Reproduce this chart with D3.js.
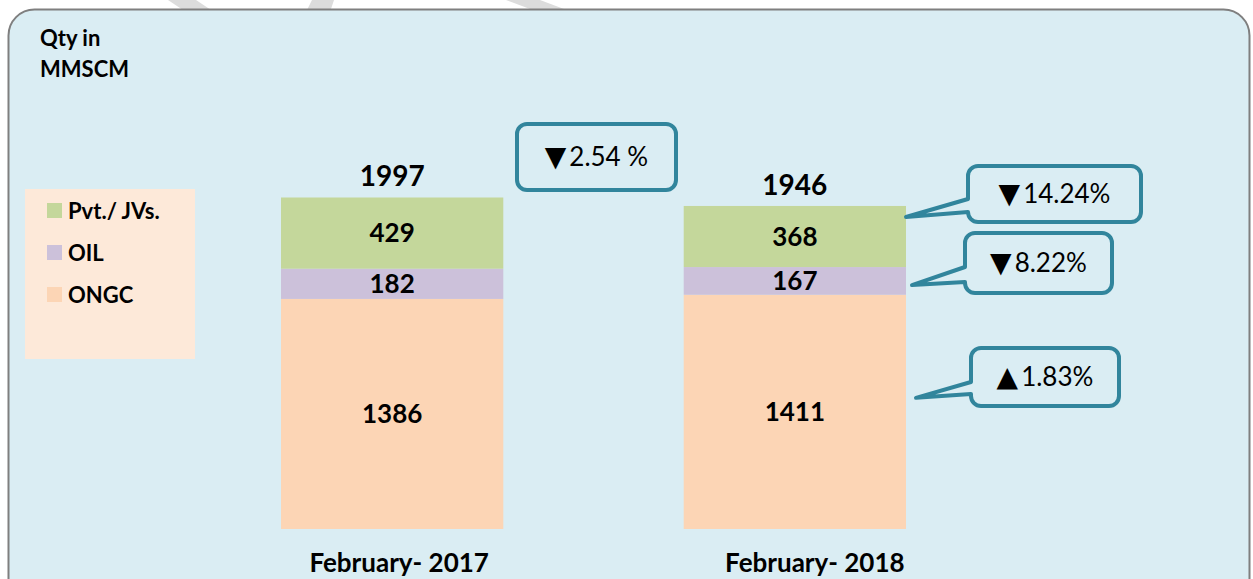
<!DOCTYPE html>
<html lang="en">
<head>
<meta charset="UTF-8">
<title>Natural gas production, February 2017 vs 2018</title>
<script src="https://cdn.jsdelivr.net/npm/d3@7"></script>
<style>
  html, body { margin: 0; padding: 0; background: #fff; }
  svg { display: block; font-family: Lato, "Open Sans", sans-serif; }
</style>
</head>
<body>
<svg id="chart" width="1253" height="579"></svg>
<script>
// data
var categories = ["February- 2017", "February- 2018"]
var seriesNames = ["ONGC", "OIL", "Pvt./ JVs."]
var ongc = [1386, 1411]
var oil = [182, 167]
var pvt = [429, 368]
var totals = [1997, 1946]
var legendOrder = ["Pvt./ JVs.", "OIL", "ONGC"]
var totalChange = ["\u25BC", "2.54 %"]
var seriesChange = [["\u25B2", "1.83%"], ["\u25BC", "8.22%"], ["\u25BC", "14.24%"]]  // ONGC, OIL, Pvt

var colors = { "ONGC": "#fcd5b5", "OIL": "#ccc1da", "Pvt./ JVs.": "#c4d79b" }
var teal = "#31859c"

var svg = d3.select("#chart")

// faint watermark bands peeking above the panel
var bands = [
  [[168, 0], [196, 0], [214, 12], [186, 12]],
  [[312, 0], [334, 0], [330, 12], [306, 12]],
  [[506, 0], [540, 0], [572, 12], [538, 12]]
]
svg.selectAll("polygon.wm").data(bands).join("polygon")
  .attr("class", "wm")
  .attr("points", d => d.map(p => p.join(",")).join(" "))
  .attr("fill", "#dcdcdc")

// panel
svg.append("rect")
  .attr("x", 8.5).attr("y", 9.5)
  .attr("width", 1241).attr("height", 600)
  .attr("rx", 26)
  .attr("fill", "#daedf3")
  .attr("stroke", "#7f7f7f")
  .attr("stroke-width", 2)

svg.append("text")
  .attr("x", 40).attr("y", 46)
  .attr("font-size", 22).attr("font-weight", "bold")
  .text("Qty in")
svg.append("text")
  .attr("x", 40).attr("y", 77)
  .attr("font-size", 22).attr("font-weight", "bold")
  .text("MMSCM")

// scales
var x = d3.scaleBand()
  .domain(categories)
  .range([281, 906])
  .paddingInner(0.448)
  .paddingOuter(0)

var y = d3.scaleLinear()
  .domain([0, 2000])
  .range([529, 197])

var rows = categories.map((c, i) => ({ cat: c, "ONGC": ongc[i], "OIL": oil[i], "Pvt./ JVs.": pvt[i] }))
var stacked = d3.stack().keys(seriesNames)(rows)

var groups = svg.selectAll("g.series").data(stacked).join("g")
  .attr("class", "series")
  .attr("fill", d => colors[d.key])

groups.selectAll("rect").data(d => d).join("rect")
  .attr("x", d => x(d.data.cat))
  .attr("y", d => y(d[1]))
  .attr("width", x.bandwidth())
  .attr("height", d => y(d[0]) - y(d[1]))

// segment labels
stacked.forEach(s => {
  svg.selectAll(null).data(s).join("text")
    .attr("x", d => x(d.data.cat) + x.bandwidth() / 2)
    .attr("y", d => (y(d[0]) + y(d[1])) / 2)
    .attr("dy", "0.36em")
    .attr("text-anchor", "middle")
    .attr("font-size", 26).attr("font-weight", "bold")
    .text(d => d[1] - d[0])
})

// totals
svg.selectAll("text.total").data(categories).join("text")
  .attr("class", "total")
  .attr("x", d => x(d) + x.bandwidth() / 2)
  .attr("y", (d, i) => y(totals[i]) - 11)
  .attr("text-anchor", "middle")
  .attr("font-size", 28).attr("font-weight", "bold")
  .text((d, i) => totals[i])

// category labels
svg.selectAll("text.cat").data(categories).join("text")
  .attr("class", "cat")
  .attr("x", (d, i) => x(d) + x.bandwidth() / 2 + (i ? 20 : 7))
  .attr("y", 572)
  .attr("text-anchor", "middle")
  .attr("font-size", 26).attr("font-weight", "bold")
  .text(d => d)

// legend
svg.append("rect")
  .attr("x", 25).attr("y", 189)
  .attr("width", 170).attr("height", 170)
  .attr("fill", "#fde9d9")

var leg = svg.selectAll("g.leg").data(legendOrder).join("g")
  .attr("class", "leg")
  .attr("transform", (d, i) => `translate(47, ${203 + i * 42})`)
leg.append("rect")
  .attr("width", 15).attr("height", 15)
  .attr("fill", d => colors[d])
leg.append("text")
  .attr("x", 21).attr("y", 16)
  .attr("font-size", 22).attr("font-weight", "bold")
  .text(d => d)

// callouts
function callout(bx, by, bw, bh, label, tip) {
  var r = 10
  var p = d3.path()
  p.moveTo(bx + r, by)
  p.lineTo(bx + bw - r, by)
  p.arcTo(bx + bw, by, bx + bw, by + r, r)
  p.lineTo(bx + bw, by + bh - r)
  p.arcTo(bx + bw, by + bh, bx + bw - r, by + bh, r)
  p.lineTo(bx + r, by + bh)
  p.arcTo(bx, by + bh, bx, by + bh - r, r)
  if (tip) {
    p.lineTo(bx, tip.b2)
    p.lineTo(tip.x, tip.y)
    p.lineTo(bx, tip.b1)
  }
  p.lineTo(bx, by + r)
  p.arcTo(bx, by, bx + r, by, r)
  p.closePath()
  svg.append("path")
    .attr("d", p.toString())
    .attr("fill", "#daedf3")
    .attr("stroke", teal)
    .attr("stroke-width", 4)
    .attr("stroke-linejoin", "round")
  var t = svg.append("text")
    .attr("x", bx + bw / 2)
    .attr("y", by + bh / 2)
    .attr("dy", "0.36em")
    .attr("text-anchor", "middle")
    .attr("font-size", 26)
  t.append("tspan")
    .attr("font-family", "'DejaVu Sans'")
    .attr("font-size", 28)
    .text(label[0])
  t.append("tspan").attr("dx", 3).text(label[1])
}

var barRight = x(categories[1]) + x.bandwidth()
var s2 = 1
callout(517, 124, 159, 66, totalChange, null)
callout(968, 166, 173, 56, seriesChange[2],
  { x: barRight, y: y(stacked[2][s2][0] + (stacked[2][s2][1] - stacked[2][s2][0]) * 0.82), b1: 199, b2: 212 })
callout(965, 233, 147, 60, seriesChange[1],
  { x: barRight + 6, y: y(stacked[1][s2][0] + (stacked[1][s2][1] - stacked[1][s2][0]) * 0.35), b1: 267, b2: 282 })
callout(971, 348, 148, 58, seriesChange[0],
  { x: barRight + 10, y: y(stacked[0][s2][1] * 0.56), b1: 382, b2: 394 })
</script>
</body>
</html>
